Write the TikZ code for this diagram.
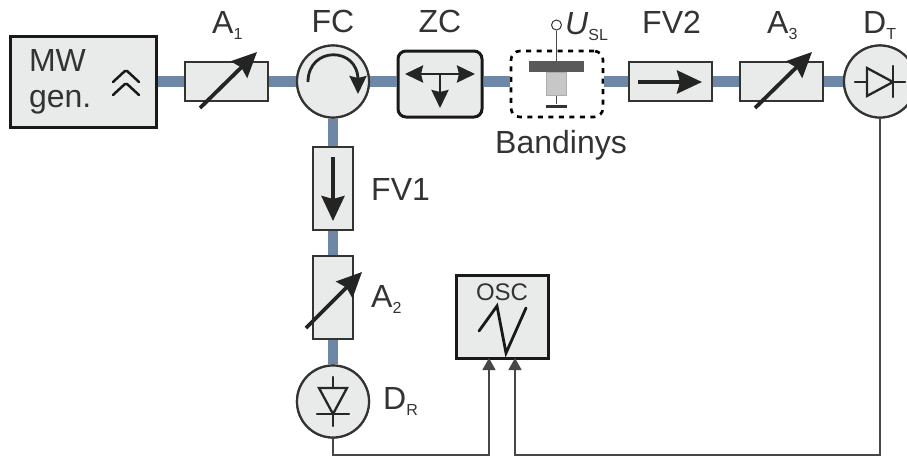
\documentclass[tikz,border=0pt]{standalone}
\usepackage{fontspec}
\setmainfont{Liberation Sans}
\usetikzlibrary{arrows.meta}
\definecolor{inkgray}{HTML}{333332}
\definecolor{bodygray}{HTML}{E9EBEA}
\definecolor{guideblue}{HTML}{6F87A7}
\newcommand{\sublbl}[2]{#1\raisebox{-6pt}{\fontsize{16}{16}\selectfont #2}}
\tikzset{
  unit/.style={draw=inkgray, fill=bodygray, line width=2.2pt, inner sep=0pt, minimum width=83pt, minimum height=39pt},
  unitv/.style={unit, minimum width=40pt, minimum height=83pt},
  heavy/.style={draw=black!90, fill=bodygray, line width=3pt, inner sep=0pt},
  round unit/.style={circle, draw=inkgray, fill=bodygray, line width=2.2pt, inner sep=0pt, minimum size=72pt},
  guide/.style={guideblue, line width=10.5pt},
  wire/.style={inkgray!90, line width=1.2pt},
  wirearrow/.style={wire, -{Triangle[length=12pt,width=13pt]}},
  bigarrow/.style={inkgray!70!black, line width=3.8pt, -{Stealth[length=25pt,width=23pt,inset=3pt]}},
  smallarrow/.style={inkgray!70!black, line width=2.8pt, -{Stealth[length=18pt,width=17pt,inset=2pt]}},
  diode/.style={black!85, line width=2.3pt, line cap=round},
  lbl/.style={text=inkgray, inner sep=0pt, anchor=base west, font=\fontsize{32}{36}\selectfont},
}
\begin{document}
\begin{tikzpicture}[x=1pt, y=-1pt, line cap=butt]
  \clip (0,0) rectangle (907,456);
  % top row
  \node[heavy, minimum width=146pt, minimum height=91pt, text width=108pt, inner xsep=19pt, align=left,
        text=inkgray, font=\fontsize{32}{36}\selectfont] (gen) at (83,81.5) {MW\\gen.};
  \node[unit] (atA) at (226.5,81.5) {};
  \node[round unit] (fc) at (333,81.5) {};
  \node[heavy, rounded corners=8pt, minimum width=84pt, minimum height=66pt] (zc) at (440,84) {};
  \node[draw=black, line width=2.6pt, dash pattern=on 5pt off 5.5pt, rounded corners=9pt, inner sep=0pt,
        minimum width=92pt, minimum height=66pt] (band) at (557,84) {};
  \node[unit] (fvb) at (670.5,81.5) {};
  \node[unit] (atC) at (781.5,81.5) {};
  \node[round unit] (dt) at (880,81.5) {};
  % down branch
  \node[unitv] (fva) at (333,188.5) {};
  \node[unitv] (atB) at (333,297.5) {};
  \node[round unit] (dr) at (333,401.5) {};
  \node[heavy, minimum width=92pt, minimum height=83pt] (osc) at (502,316.5) {};
  % waveguides
  \draw[guide] (gen.east) -- (atA.west);
  \draw[guide] (atA.east) -- (fc.east);
  \draw[guide] (fc.east) -- (zc.west |- fc.east);
  \draw[guide] (zc.east |- fc.east) -- (band.west |- fc.east);
  \draw[guide] (band.east |- fc.east) -- (fvb.west);
  \draw[guide] (fvb.east) -- (atC.west);
  \draw[guide] (atC.east) -- (dt.west);
  \draw[guide] (fc.south) -- (fva.north);
  \draw[guide] (fva.south) -- (atB.north);
  \draw[guide] (atB.south) -- (dr.north);
  % redraw round units over the guides
  \node[round unit] at (fc) {};
  \node[round unit] at (dt) {};
  \node[round unit] at (dr) {};
  % MW gen. chevrons
  \draw[black!90, line width=2.5pt, line cap=round, rounded corners=1.5pt] (113,82) -- (126,70) -- (139,82);
  \draw[black!90, line width=2.5pt, line cap=round, rounded corners=1.5pt] (113,95) -- (126,83) -- (139,95);
  % attenuators
  \foreach \x in {200,755} {
    \draw[bigarrow] (\x,108) -- ({\x+57},52);
  }
  \draw[bigarrow] (306,328) -- (362,272);
  % isolators
  \draw[bigarrow] (638,82) -- (702,82);
  \draw[bigarrow] (333,157) -- (333,221);
  % circulator
  \draw[smallarrow] (308,82) .. controls (308,46) and (358,46) .. (358,80) -- (358,94);
  % ZC tee
  \draw[smallarrow] (440,74) -- (405,74);
  \draw[smallarrow] (440,74) -- (475,74);
  \draw[smallarrow] (440,74) -- (440,108);
  % sample holder
  \node[draw=inkgray!40, fill=black!22, line width=1pt, inner sep=0pt, minimum width=20pt, minimum height=23pt] (smp) at (556.5,84) {};
  \node[fill=black!65, inner sep=0pt, minimum width=55pt, minimum height=11pt] (plate) at (556.5,66.5) {};
  \node[fill=inkgray, inner sep=0pt, minimum width=21pt, minimum height=3pt] (gnd) at (556.5,106) {};
  \node[circle, draw=inkgray, fill=white, line width=1pt, inner sep=0pt, minimum size=10pt] (usl) at (556.5,25) {};
  \draw[wire] (usl) -- (plate);
  \draw[wire] (smp) -- (gnd);
  % diodes
  \draw[diode] (855,82) -- (905,82);
  \draw[diode, fill=bodygray] (867,68) -- (867,96) -- (893,82) -- cycle;
  \draw[diode] (893,66) -- (893,97);
  \draw[diode] (333,377) -- (333,426);
  \draw[diode, fill=bodygray] (319,388) -- (347,388) -- (333,414) -- cycle;
  \draw[diode] (317,414) -- (349,414);
  % sweep in OSC
  \draw[black!90, line width=2.8pt, line cap=round] (479,331) -- (497,306) -- (506,353) -- (526,308);
  % signal wires
  \coordinate (inA) at (489,358);
  \coordinate (inB) at (515,358);
  \draw[wirearrow] (dr.south) |- (489,455) -- (inA);
  \draw[wirearrow] (dt.south) |- (515,455) -- (inB);
  % labels
  \node[lbl] (lblA) at (212,33) {\sublbl{A}{1}};
  \node[lbl, anchor=base] (lblfc) at (333,32) {FC};
  \node[lbl, anchor=base] (lblzc) at (440,32) {ZC};
  \node[lbl] (lblu) at (565,34) {\sublbl{\textit{U}}{SL}};
  \node[lbl] (lblfvb) at (642,33) {FV2};
  \node[lbl] (lblC) at (767,33) {\sublbl{A}{3}};
  \node[lbl] (lbldt) at (863,33) {\sublbl{D}{T}};
  \node[lbl] (lblband) at (495,153) {Bandinys};
  \node[lbl] (lblfva) at (371,200) {FV1};
  \node[lbl] (lblB) at (371,307) {\sublbl{A}{2}};
  \node[lbl] (lbldr) at (383,409) {\sublbl{D}{R}};
  \node[text=inkgray, inner sep=0pt, anchor=base, font=\fontsize{24}{24}\selectfont] (lblosc) at (502,300) {OSC};
\end{tikzpicture}
\end{document}
